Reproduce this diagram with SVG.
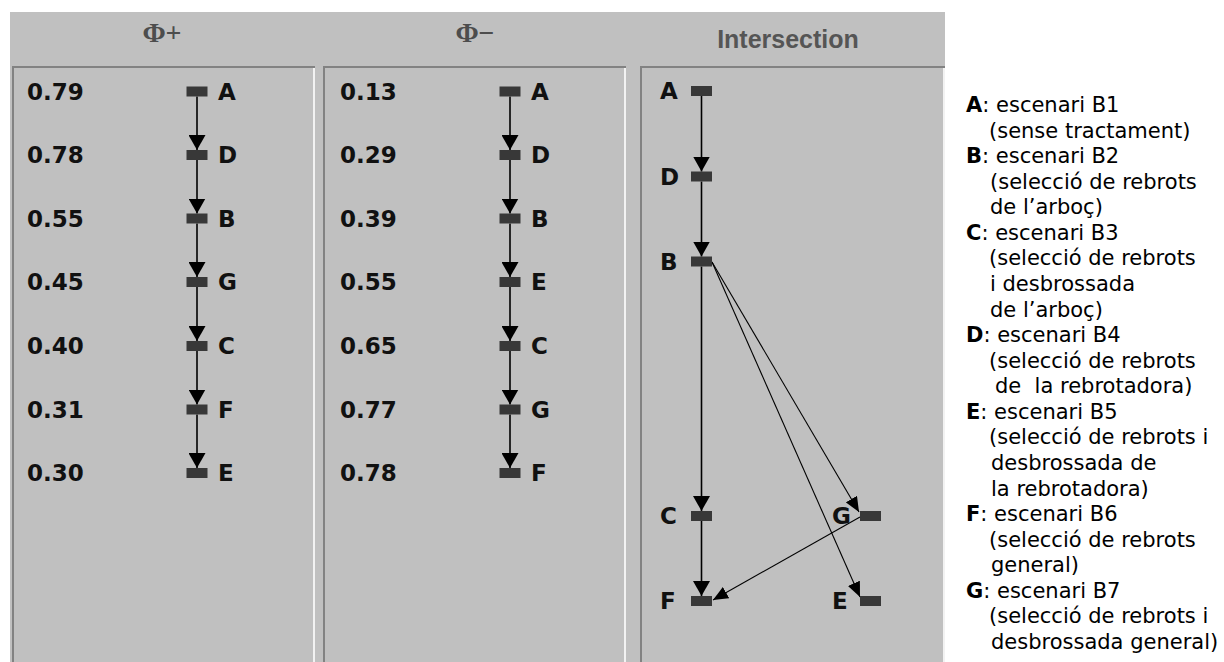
<svg xmlns="http://www.w3.org/2000/svg" width="1224" height="662" viewBox="0 0 1224 662">
<defs>
<marker id="arr" markerUnits="userSpaceOnUse" markerWidth="15" markerHeight="17" viewBox="0 0 15 17" refX="15" refY="8.5" orient="auto"><path d="M0,0 L15,8.5 L0,17 Z" fill="#000"/></marker>
<marker id="arr2" markerUnits="userSpaceOnUse" markerWidth="15" markerHeight="13" viewBox="0 0 15 13" refX="15" refY="6.5" orient="auto"><path d="M0,0 L15,6.5 L0,13 Z" fill="#000"/></marker>
</defs>
<style>
.hdr{font-family:"Liberation Sans",Arial,sans-serif;font-weight:bold;font-size:25px;fill:#555}
.phi{font-family:"Liberation Serif","Times New Roman",serif;font-weight:bold;font-size:28px;fill:#4d4d4d}
.v{font-family:"DejaVu Sans",Verdana,sans-serif;font-weight:bold;font-size:23px;fill:#111}
.n{fill:#383838}
.e{stroke:#000;stroke-width:1.6;fill:none;marker-end:url(#arr)}
.d{stroke:#000;stroke-width:1.1;fill:none;marker-end:url(#arr2)}
.lg{font-family:"DejaVu Sans",Verdana,sans-serif;font-size:21px;fill:#000}
.b{font-weight:bold}
.dk{fill:#828282}
.lt{fill:#f2f2f2}
</style>
<rect width="1224" height="662" fill="#fff"/>
<rect x="10" y="12" width="935" height="650" fill="#c0c0c0"/>
<!-- headers -->
<text class="phi" x="162" y="42" text-anchor="middle">Φ+</text>
<text class="phi" x="475" y="42" text-anchor="middle">Φ−</text>
<text class="hdr" x="788" y="48" text-anchor="middle">Intersection</text>
<!-- panel frames -->
<g id="panel1">
<rect class="dk" x="12" y="66" width="303" height="2"/>
<rect class="dk" x="12" y="66" width="2" height="596"/>
<rect class="lt" x="313" y="68" width="2" height="594"/>
</g>
<g id="panel2">
<rect class="dk" x="323" y="66" width="303" height="2"/>
<rect class="dk" x="323" y="66" width="2" height="596"/>
<rect class="lt" x="624" y="68" width="2" height="594"/>
</g>
<g id="panel3">
<rect class="dk" x="640" y="66" width="305" height="2"/>
<rect class="dk" x="640" y="66" width="2" height="596"/>
<rect class="lt" x="943" y="68" width="2" height="594"/>
</g>
<!-- connectors -->
<g id="connectors">
<line class="e" x1="197" y1="96.5" x2="197" y2="150"/>
<line class="e" x1="197" y1="160" x2="197" y2="213.5"/>
<line class="e" x1="197" y1="223.5" x2="197" y2="277"/>
<line class="e" x1="197" y1="287" x2="197" y2="341"/>
<line class="e" x1="197" y1="351" x2="197" y2="404.5"/>
<line class="e" x1="197" y1="414.5" x2="197" y2="468"/>
<line class="e" x1="510" y1="96.5" x2="510" y2="150"/>
<line class="e" x1="510" y1="160" x2="510" y2="213.5"/>
<line class="e" x1="510" y1="223.5" x2="510" y2="277"/>
<line class="e" x1="510" y1="287" x2="510" y2="341"/>
<line class="e" x1="510" y1="351" x2="510" y2="404.5"/>
<line class="e" x1="510" y1="414.5" x2="510" y2="468"/>
<line class="e" x1="701.5" y1="96" x2="701.5" y2="171.5"/>
<line class="e" x1="701.5" y1="181.5" x2="701.5" y2="256.5"/>
<line class="e" x1="701.5" y1="266.5" x2="701.5" y2="511"/>
<line class="e" x1="701.5" y1="521" x2="701.5" y2="596"/>
<line class="d" x1="712" y1="262" x2="859" y2="512"/>
<line class="d" x1="712" y1="262" x2="860" y2="597"/>
<line class="d" x1="860" y1="517" x2="713" y2="600"/>
</g>
<!-- panel 1 nodes -->
<g id="p1-A"><text class="v" x="27" y="99.9">0.79</text><rect class="n" x="186.5" y="86.5" width="21" height="10"/><text class="v" x="218" y="99.9">A</text></g>
<g id="p1-D"><text class="v" x="27" y="163.4">0.78</text><rect class="n" x="186.5" y="150" width="21" height="10"/><text class="v" x="218" y="163.4">D</text></g>
<g id="p1-B"><text class="v" x="27" y="226.9">0.55</text><rect class="n" x="186.5" y="213.5" width="21" height="10"/><text class="v" x="218" y="226.9">B</text></g>
<g id="p1-G"><text class="v" x="27" y="290.4">0.45</text><rect class="n" x="186.5" y="277" width="21" height="10"/><text class="v" x="218" y="290.4">G</text></g>
<g id="p1-C"><text class="v" x="27" y="354.4">0.40</text><rect class="n" x="186.5" y="341" width="21" height="10"/><text class="v" x="218" y="354.4">C</text></g>
<g id="p1-F"><text class="v" x="27" y="417.9">0.31</text><rect class="n" x="186.5" y="404.5" width="21" height="10"/><text class="v" x="218" y="417.9">F</text></g>
<g id="p1-E"><text class="v" x="27" y="481.4">0.30</text><rect class="n" x="186.5" y="468" width="21" height="10"/><text class="v" x="218" y="481.4">E</text></g>
<!-- panel 2 nodes -->
<g id="p2-A"><text class="v" x="340" y="99.9">0.13</text><rect class="n" x="499.5" y="86.5" width="21" height="10"/><text class="v" x="531" y="99.9">A</text></g>
<g id="p2-D"><text class="v" x="340" y="163.4">0.29</text><rect class="n" x="499.5" y="150" width="21" height="10"/><text class="v" x="531" y="163.4">D</text></g>
<g id="p2-B"><text class="v" x="340" y="226.9">0.39</text><rect class="n" x="499.5" y="213.5" width="21" height="10"/><text class="v" x="531" y="226.9">B</text></g>
<g id="p2-E"><text class="v" x="340" y="290.4">0.55</text><rect class="n" x="499.5" y="277" width="21" height="10"/><text class="v" x="531" y="290.4">E</text></g>
<g id="p2-C"><text class="v" x="340" y="354.4">0.65</text><rect class="n" x="499.5" y="341" width="21" height="10"/><text class="v" x="531" y="354.4">C</text></g>
<g id="p2-G"><text class="v" x="340" y="417.9">0.77</text><rect class="n" x="499.5" y="404.5" width="21" height="10"/><text class="v" x="531" y="417.9">G</text></g>
<g id="p2-F"><text class="v" x="340" y="481.4">0.78</text><rect class="n" x="499.5" y="468" width="21" height="10"/><text class="v" x="531" y="481.4">F</text></g>
<!-- intersection nodes -->
<g id="p3-A"><text class="v" x="660" y="99.4">A</text><rect class="n" x="691" y="86" width="21" height="10"/></g>
<g id="p3-D"><text class="v" x="660" y="184.9">D</text><rect class="n" x="691" y="171.5" width="21" height="10"/></g>
<g id="p3-B"><text class="v" x="660" y="269.9">B</text><rect class="n" x="691" y="256.5" width="21" height="10"/></g>
<g id="p3-C"><text class="v" x="660" y="524.4">C</text><rect class="n" x="691" y="511" width="21" height="10"/></g>
<g id="p3-F"><text class="v" x="660" y="609.4">F</text><rect class="n" x="691" y="596" width="21" height="10"/></g>
<g id="p3-G"><text class="v" x="832" y="524.4">G</text><rect class="n" x="860" y="511" width="21" height="10"/></g>
<g id="p3-E"><text class="v" x="832" y="609.4">E</text><rect class="n" x="860" y="596" width="21" height="10"/></g>
<!-- legend -->
<g id="legend" class="lg">
<text x="966" y="112"><tspan class="b">A</tspan>: escenari B1</text>
<text x="989" y="137.6">(sense tractament)</text>
<text x="966" y="163.1"><tspan class="b">B</tspan>: escenari B2</text>
<text x="990" y="188.7">(selecció de rebrots</text>
<text x="990" y="214.3">de l’arboç)</text>
<text x="966" y="239.9"><tspan class="b">C</tspan>: escenari B3</text>
<text x="989" y="265.4">(selecció de rebrots</text>
<text x="990" y="291">i desbrossada</text>
<text x="990" y="316.6">de l’arboç)</text>
<text x="966" y="342.1"><tspan class="b">D</tspan>: escenari B4</text>
<text x="989" y="367.7">(selecció de rebrots</text>
<text x="995" y="393.3" xml:space="preserve">de  la rebrotadora)</text>
<text x="966" y="418.8"><tspan class="b">E</tspan>: escenari B5</text>
<text x="989" y="444.4">(selecció de rebrots i</text>
<text x="991" y="470">desbrossada de</text>
<text x="991" y="495.6">la rebrotadora)</text>
<text x="966" y="521.1"><tspan class="b">F</tspan>: escenari B6</text>
<text x="989" y="546.7">(selecció de rebrots</text>
<text x="991" y="572.3">general)</text>
<text x="966" y="597.8"><tspan class="b">G</tspan>: escenari B7</text>
<text x="989" y="623.4">(selecció de rebrots i</text>
<text x="991" y="649">desbrossada general)</text>
</g>
</svg>
